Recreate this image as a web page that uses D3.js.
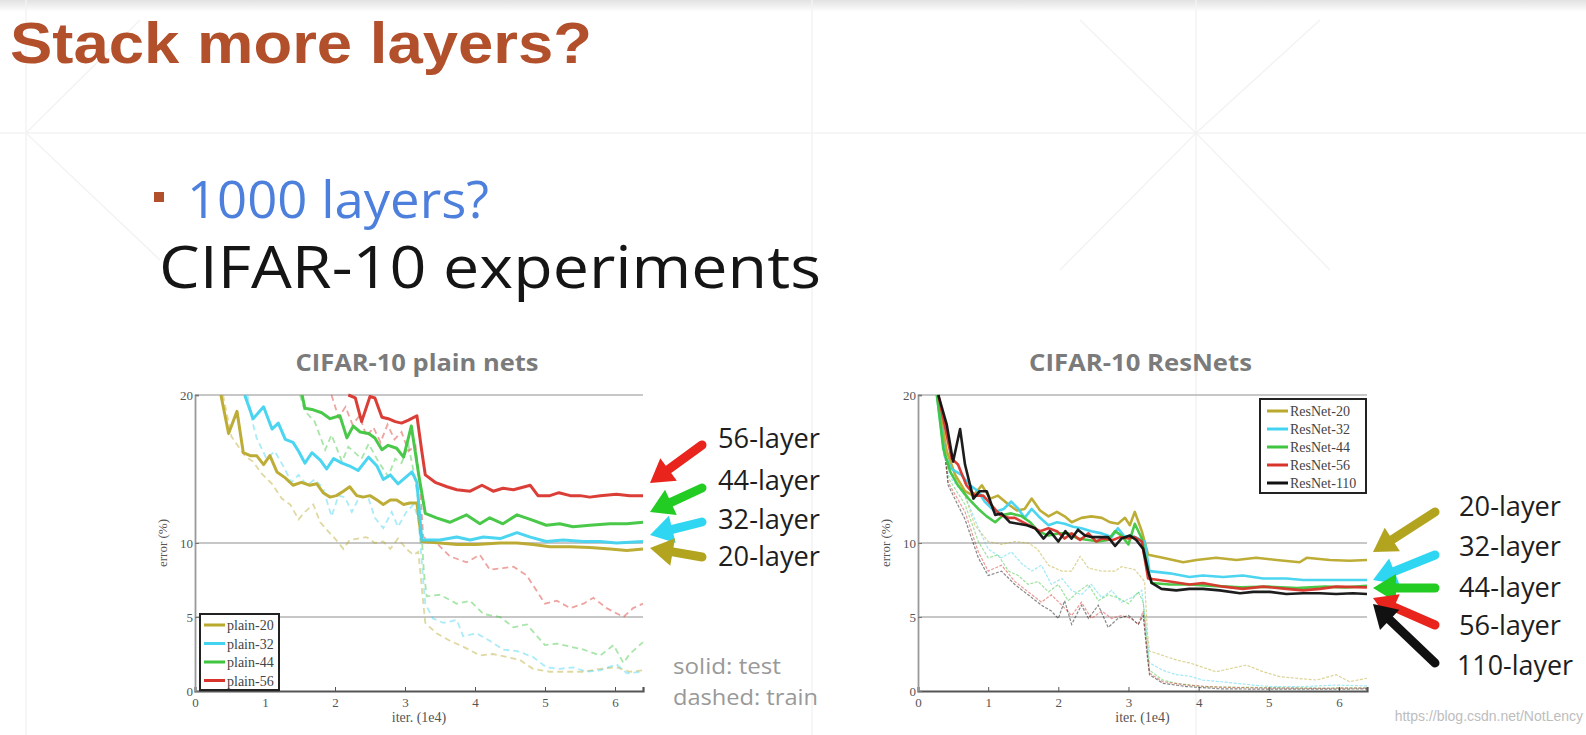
<!DOCTYPE html>
<html><head><meta charset="utf-8">
<script src="https://cdn.jsdelivr.net/npm/d3@7"></script>
<style>html,body{margin:0;padding:0;background:#fff;overflow:hidden}</style>
</head><body>
<svg id="c" width="1586" height="735"></svg>
<script>
// ---------------- data ----------------
const xTicks = [0,1,2,3,4,5,6];
const yTicks = [0,5,10,20];
const plainNames = ["plain-20","plain-32","plain-44","plain-56"];
const resNames = ["ResNet-20","ResNet-32","ResNet-44","ResNet-56","ResNet-110"];
const plainArrowLabels = ["56-layer","44-layer","32-layer","20-layer"];
const resArrowLabels = ["20-layer","32-layer","44-layer","56-layer","110-layer"];

const plain20Test = [[0.37,20],[0.48,17.4],[0.6,18.9],[0.69,16.1],[0.79,15.9],[0.88,15.9],[0.98,15.3],[1.07,15.9],[1.17,14.8],[1.29,14.4],[1.40,13.9],[1.52,14.1],[1.64,13.9],[1.74,14.0],[1.83,13.4],[1.93,13.1],[2.02,13.2],[2.12,13.5],[2.21,13.8],[2.31,13.2],[2.40,13.1],[2.5,13.2],[2.6,12.9],[2.69,12.6],[2.79,12.9],[2.88,12.9],[2.98,12.6],[3.07,12.7],[3.17,12.7],[3.24,10.1],[3.5,10.0],[3.74,9.9],[4.02,9.9],[4.36,10.0],[4.6,10.0],[4.83,9.9],[5.07,9.75],[5.36,9.75],[5.64,9.7],[5.93,9.6],[6.17,9.5],[6.4,9.6]];
const plain32Test = [[0.71,20],[0.83,18.4],[0.98,19.2],[1.1,17.7],[1.19,18.1],[1.29,17.0],[1.4,16.8],[1.48,16.2],[1.57,15.4],[1.67,16.1],[1.79,15.6],[1.88,15.0],[1.98,15.7],[2.1,15.4],[2.21,15.2],[2.33,14.9],[2.48,15.8],[2.6,15.2],[2.69,14.3],[2.79,14.6],[2.9,14.0],[3.0,14.4],[3.1,14.8],[3.17,14.1],[3.24,10.2],[3.5,10.2],[3.74,10.4],[3.93,10.2],[4.12,10.4],[4.36,10.3],[4.6,10.7],[4.79,10.4],[5.02,10.1],[5.26,10.2],[5.55,10.1],[5.79,10.1],[6.02,10.0],[6.4,10.1]];
const plain44Test = [[1.53,20],[1.57,19.1],[1.69,19.0],[1.81,18.8],[1.93,18.4],[2.07,18.6],[2.17,17.1],[2.26,17.9],[2.36,17.5],[2.48,17.4],[2.57,17.1],[2.67,16.3],[2.76,16.6],[2.88,16.4],[2.98,15.8],[3.09,17.9],[3.2,14.5],[3.29,12.0],[3.45,11.7],[3.64,11.4],[3.88,11.9],[4.07,11.3],[4.21,11.7],[4.4,11.3],[4.6,11.9],[4.79,11.6],[5.02,11.2],[5.21,11.3],[5.4,11.1],[5.64,11.2],[5.93,11.3],[6.17,11.3],[6.4,11.4]];
const plain56Test = [[2.19,20],[2.29,19.8],[2.38,18.2],[2.5,19.9],[2.57,19.8],[2.67,18.5],[2.76,18.4],[2.86,18.2],[2.95,18.1],[3.05,18.3],[3.17,18.6],[3.24,16.2],[3.29,14.6],[3.43,14.1],[3.6,13.8],[3.74,13.6],[3.93,13.5],[4.1,13.9],[4.26,13.5],[4.4,13.7],[4.55,13.6],[4.79,13.9],[4.9,13.2],[5.07,13.2],[5.2,13.4],[5.36,13.2],[5.5,13.2],[5.64,13.1],[5.79,13.2],[6.02,13.3],[6.21,13.2],[6.4,13.2]];

const plain20Train = [[0.4,20],[0.52,17.2],[0.71,15.9],[0.83,15.5],[0.95,14.7],[1.1,14.0],[1.24,13.0],[1.36,12.6],[1.48,11.6],[1.57,12.1],[1.69,12.6],[1.79,11.4],[1.9,10.8],[2.0,10.3],[2.12,9.6],[2.21,10.2],[2.33,10.3],[2.45,10.4],[2.57,10.0],[2.69,10.1],[2.79,9.6],[2.9,10.3],[3.02,9.6],[3.12,9.2],[3.19,9.4],[3.26,6.0],[3.29,4.6],[3.45,3.9],[3.64,3.4],[3.83,3.0],[4.07,2.4],[4.26,2.5],[4.45,2.3],[4.64,2.1],[4.83,1.5],[5.07,1.3],[5.31,1.3],[5.55,1.3],[5.79,1.5],[6.02,1.6],[6.21,1.3],[6.4,1.4]];
const plain32Train = [[0.75,20],[0.83,18.0],[0.88,17.1],[1.02,15.7],[1.14,16.2],[1.26,15.2],[1.38,14.1],[1.48,14.6],[1.6,13.9],[1.71,14.3],[1.83,13.7],[1.95,11.8],[2.05,13.2],[2.14,13.1],[2.24,12.1],[2.36,13.2],[2.48,13.0],[2.57,11.7],[2.69,11.0],[2.81,12.1],[2.9,11.1],[3.02,12.1],[3.12,12.6],[3.19,11.7],[3.26,7.5],[3.29,5.9],[3.4,4.9],[3.55,4.6],[3.74,4.8],[3.83,3.7],[4.02,3.9],[4.21,3.4],[4.4,2.8],[4.6,2.7],[4.83,2.3],[5.02,1.6],[5.21,1.5],[5.4,1.6],[5.6,1.3],[5.79,1.4],[6.02,1.8],[6.17,1.2],[6.4,1.3]];
const plain44Train = [[1.5,20],[1.57,18.9],[1.71,18.2],[1.86,16.3],[1.95,17.3],[2.1,15.5],[2.19,16.5],[2.38,15.7],[2.48,16.7],[2.62,15.5],[2.76,14.5],[2.86,15.7],[2.95,15.4],[3.05,16.6],[3.14,14.4],[3.22,12],[3.27,8.0],[3.31,6.4],[3.5,6.5],[3.74,5.9],[3.93,6.1],[4.12,5.2],[4.36,5.0],[4.55,4.3],[4.74,4.5],[5.0,3.1],[5.17,3.2],[5.36,3.0],[5.55,2.8],[5.79,2.4],[5.98,3.1],[6.12,1.9],[6.21,2.5],[6.4,3.3]];
const plain56Train = [[1.95,20],[2.05,18.5],[2.15,19.2],[2.25,18.0],[2.35,18.6],[2.45,17.2],[2.55,17.8],[2.65,16.8],[2.75,18.0],[2.85,17.0],[2.95,17.5],[3.05,16.2],[3.15,16.6],[3.22,13.5],[3.26,10.4],[3.45,10.0],[3.64,9.1],[3.88,8.7],[4.07,9.2],[4.21,8.2],[4.4,8.3],[4.55,8.4],[4.74,7.8],[5.0,5.9],[5.17,6.1],[5.36,5.6],[5.55,5.9],[5.69,6.3],[5.88,5.6],[6.12,5.0],[6.26,5.6],[6.4,5.9]];

const res20Test = [[0.27,20],[0.41,16.2],[0.53,14.6],[0.67,13.5],[0.79,13.2],[0.91,13.9],[1.03,13.0],[1.14,13.2],[1.29,12.6],[1.41,12.2],[1.52,12.3],[1.62,13.0],[1.74,12.2],[1.86,11.8],[1.98,12.1],[2.09,11.8],[2.19,11.4],[2.33,11.7],[2.47,11.8],[2.62,11.7],[2.74,11.4],[2.85,11.3],[2.95,11.7],[3.02,11.2],[3.09,12.1],[3.19,10.8],[3.28,9.2],[3.49,9.0],[3.78,8.7],[3.97,8.85],[4.25,9.0],[4.54,8.85],[4.82,9.0],[5.11,8.85],[5.44,8.7],[5.54,9.0],[5.87,8.85],[6.15,8.8],[6.4,8.85]];
const res32Test = [[0.27,20],[0.38,15.9],[0.48,15.0],[0.62,14.6],[0.74,13.9],[0.86,13.5],[0.95,12.8],[1.1,12.1],[1.22,12.3],[1.33,12.8],[1.43,12.3],[1.52,11.7],[1.62,12.3],[1.74,11.7],[1.86,11.2],[1.98,11.4],[2.09,11.3],[2.21,11.1],[2.33,11.0],[2.47,10.8],[2.62,10.65],[2.76,10.4],[2.85,11.0],[2.95,10.4],[3.04,10.5],[3.14,10.3],[3.23,10.1],[3.3,8.1],[3.59,7.95],[3.87,7.7],[4.06,7.8],[4.35,7.7],[4.63,7.8],[4.92,7.6],[5.25,7.6],[5.49,7.5],[5.96,7.5],[6.4,7.5]];
const res44Test = [[0.27,20],[0.36,16.4],[0.46,14.8],[0.57,13.9],[0.72,13.0],[0.86,12.3],[0.98,11.8],[1.1,11.4],[1.22,11.9],[1.33,12.0],[1.48,11.8],[1.6,11.4],[1.71,10.8],[1.86,10.5],[2.0,10.65],[2.14,10.65],[2.28,10.3],[2.43,10.2],[2.57,10.1],[2.71,10.2],[2.81,10.8],[2.9,10.5],[3.0,9.9],[3.09,11.3],[3.19,10.3],[3.28,8.1],[3.33,7.3],[3.59,7.2],[3.87,7.2],[4.2,7.1],[4.6,7.0],[5.0,7.05],[5.4,6.95],[5.8,7.05],[6.1,7.0],[6.4,7.1]];
const res56Test = [[0.29,20],[0.48,15.7],[0.57,15.3],[0.69,13.9],[0.81,13.2],[0.93,13.2],[1.04,12.6],[1.17,11.9],[1.29,11.7],[1.38,11.7],[1.5,11.4],[1.62,11.1],[1.74,10.8],[1.86,11.0],[1.98,10.8],[2.09,10.3],[2.19,10.65],[2.31,10.2],[2.43,10.65],[2.54,10.1],[2.62,10.3],[2.78,10.2],[2.88,10.4],[3.0,10.3],[3.09,10.4],[3.19,10.1],[3.28,7.6],[3.59,7.4],[3.87,7.2],[4.06,7.3],[4.35,7.05],[4.63,6.9],[4.92,7.05],[5.25,6.9],[5.49,6.8],[5.73,6.9],[5.96,7.05],[6.4,7.0]];
const res110Test = [[0.29,20],[0.41,18.0],[0.5,15.5],[0.6,17.7],[0.67,15.3],[0.79,13.0],[0.88,13.5],[0.98,13.5],[1.1,11.9],[1.19,12.0],[1.31,11.4],[1.43,11.3],[1.55,11.2],[1.67,11.0],[1.79,10.3],[1.88,10.8],[2.0,10.1],[2.1,10.8],[2.19,10.3],[2.28,10.9],[2.38,10.5],[2.47,10.4],[2.62,10.4],[2.71,10.4],[2.81,9.8],[2.9,10.3],[3.02,10.5],[3.11,10.2],[3.21,9.6],[3.28,8.1],[3.33,7.3],[3.47,6.9],[3.68,6.8],[3.87,6.9],[4.06,6.9],[4.3,6.8],[4.59,6.6],[4.78,6.7],[5.01,6.7],[5.25,6.55],[5.49,6.6],[5.73,6.6],[5.96,6.55],[6.2,6.6],[6.4,6.55]];

const res20Train = [[0.27,20],[0.43,15.0],[0.62,13.9],[0.81,11.2],[1.0,10.1],[1.19,9.9],[1.38,10.1],[1.57,10.0],[1.7,9.6],[1.86,8.5],[2.05,8.1],[2.19,8.1],[2.31,9.1],[2.43,8.3],[2.62,8.1],[2.81,8.1],[2.9,8.4],[3.09,8.2],[3.23,7.4],[3.27,4.0],[3.3,2.7],[3.49,2.4],[3.68,2.1],[3.87,1.9],[4.06,1.6],[4.25,1.3],[4.44,1.5],[4.68,1.75],[4.92,1.3],[5.16,0.97],[5.39,0.86],[5.68,0.74],[5.96,1.1],[6.15,0.63],[6.4,0.86]];
const res32Train = [[0.27,20],[0.43,14.6],[0.67,13.2],[0.86,11.0],[1.0,9.6],[1.19,9.0],[1.33,9.4],[1.48,8.6],[1.62,8.1],[1.76,8.5],[1.9,7.2],[2.05,7.6],[2.19,6.8],[2.33,6.5],[2.47,7.2],[2.62,6.3],[2.76,6.8],[2.9,6.0],[3.04,6.3],[3.19,6.8],[3.27,3.5],[3.3,1.9],[3.49,1.4],[3.68,1.1],[3.87,1.0],[4.06,0.74],[4.3,0.63],[4.54,0.52],[4.78,0.4],[5.01,0.3],[5.49,0.3],[5.96,0.4],[6.4,0.34]];
const res44Train = [[0.27,20],[0.43,14.4],[0.67,12.6],[0.86,10.1],[1.0,9.0],[1.14,9.2],[1.29,8.1],[1.43,7.8],[1.57,7.2],[1.71,7.4],[1.86,6.7],[2.0,7.2],[2.14,6.1],[2.28,6.7],[2.43,7.2],[2.57,6.1],[2.71,6.5],[2.85,6.3],[3.0,5.9],[3.14,6.7],[3.21,6.0],[3.27,3.0],[3.3,1.4],[3.49,0.74],[3.68,0.52],[4.06,0.3],[4.6,0.25],[5.2,0.22],[5.8,0.2],[6.4,0.22]];
const res56Train = [[0.29,20],[0.43,14.1],[0.67,12.1],[0.86,9.4],[1.0,8.1],[1.19,8.5],[1.38,7.4],[1.57,6.7],[1.76,6.0],[1.9,6.5],[2.05,5.8],[2.19,5.1],[2.33,6.0],[2.47,4.9],[2.62,5.4],[2.76,4.9],[2.9,5.1],[3.04,4.9],[3.14,4.5],[3.21,5.4],[3.27,2.5],[3.3,1.2],[3.49,0.63],[3.83,0.4],[4.3,0.25],[5.0,0.2],[5.7,0.18],[6.4,0.2]];
const res110Train = [[0.29,20],[0.43,13.9],[0.67,11.6],[0.86,9.0],[1.0,7.8],[1.19,8.1],[1.38,7.2],[1.57,6.5],[1.76,5.8],[1.9,5.4],[2.0,4.9],[2.09,6.1],[2.19,4.5],[2.33,5.8],[2.43,4.9],[2.57,5.8],[2.71,4.3],[2.85,4.9],[3.0,5.1],[3.14,4.5],[3.21,5.1],[3.27,2.3],[3.3,1.1],[3.49,0.52],[3.83,0.3],[4.3,0.15],[5.0,0.12],[5.7,0.12],[6.4,0.14]];

// ---------------- styling ----------------
const OLIVE="#b9a92c", CYAN="#41d3ef", GREEN="#3fc53f", RED="#d9342b", BLACK="#111111";
const plainColors=[OLIVE,CYAN,GREEN,RED];
const resColors=[OLIVE,CYAN,GREEN,RED,BLACK];

const svg=d3.select("#c");
const defs=svg.append("defs");
const grad=defs.append("linearGradient").attr("id","topg").attr("x1",0).attr("y1",0).attr("x2",0).attr("y2",1);
grad.append("stop").attr("offset","0").attr("stop-color","#e2e2e2");
grad.append("stop").attr("offset","1").attr("stop-color","#ffffff");
svg.append("rect").attr("width",1586).attr("height",735).attr("fill","#fff");
svg.append("rect").attr("width",1586).attr("height",12).attr("fill","url(#topg)");

// faint slide template lines
const bg=svg.append("g").attr("stroke","#f3f3f3").attr("stroke-width",1.5).attr("fill","none");
bg.append("line").attr("x1",0).attr("y1",133).attr("x2",1586).attr("y2",133);
[26,812,1196].forEach(x=>bg.append("line").attr("x1",x).attr("y1",0).attr("x2",x).attr("y2",735));
bg.append("path").attr("d","M26,133 L140,20 M26,133 L160,260 M1196,133 L1080,20 M1196,133 L1320,20 M1196,133 L1060,270 M1196,133 L1330,270");

// slide titles
svg.append("text").attr("x",10).attr("y",63).text("Stack more layers?")
  .attr("font-family","Liberation Sans, Arial, sans-serif").attr("font-weight","bold")
  .attr("font-size",58).attr("fill","#b3502c").attr("textLength",582).attr("lengthAdjust","spacingAndGlyphs");
svg.append("rect").attr("x",154).attr("y",192).attr("width",10).attr("height",10).attr("fill","#b3502c");
svg.append("text").attr("x",187).attr("y",218).text("1000 layers?")
  .attr("font-family","Open Sans, Noto Sans, sans-serif").attr("font-size",52).attr("fill","#4d7fdc")
  .attr("textLength",302).attr("lengthAdjust","spacingAndGlyphs");
svg.append("text").attr("x",159).attr("y",288).text("CIFAR-10 experiments")
  .attr("font-family","Open Sans, Noto Sans, sans-serif").attr("font-size",58).attr("fill","#151515")
  .attr("textLength",662).attr("lengthAdjust","spacingAndGlyphs");

// ---------------- panels ----------------
function panel(opt){
  const x=d3.scaleLinear().domain([0,6.4]).range([opt.x0,opt.x1]);
  const y=d3.scaleLinear().domain([0,20]).range([691,395]);
  const g=svg.append("g");
  const cid="clip"+opt.id;
  defs.append("clipPath").attr("id",cid).append("rect")
    .attr("x",opt.x0).attr("y",393).attr("width",opt.x1-opt.x0+2).attr("height",300);
  // title
  g.append("text").attr("x",(opt.x0+opt.x1)/2-2).attr("y",371).attr("text-anchor","middle").text(opt.title)
    .attr("font-family","Open Sans, Noto Sans, sans-serif").attr("font-weight","bold").attr("font-size",23)
    .attr("fill","#7b7b7b").attr("textLength",opt.titleLen).attr("lengthAdjust","spacingAndGlyphs");
  // grid
  g.append("g").selectAll("line").data([5,10,20]).join("line")
    .attr("x1",opt.x0).attr("x2",opt.x1).attr("y1",d=>y(d)).attr("y2",d=>y(d))
    .attr("stroke","#b4b4b4").attr("stroke-width",1.6);
  // axes
  const ax=g.append("g").attr("transform",`translate(0,${y(0)})`)
    .call(d3.axisBottom(x).tickValues(xTicks).tickSize(-4).tickPadding(7).tickFormat(d3.format("d")));
  ax.select(".domain").attr("stroke","#555").attr("stroke-width",2.2);
  ax.selectAll(".tick line").attr("stroke","#555");
  ax.selectAll("text").attr("font-family","Liberation Serif, serif").attr("font-size",13).attr("fill","#555");
  const ay=g.append("g").attr("transform",`translate(${opt.x0},0)`)
    .call(d3.axisLeft(y).tickValues(yTicks).tickSize(-4).tickPadding(2).tickFormat(d3.format("d")));
  ay.select(".domain").attr("stroke","#999").attr("stroke-width",1.8);
  ay.selectAll(".tick line").attr("stroke","#777");
  ay.selectAll("text").attr("font-family","Liberation Serif, serif").attr("font-size",13).attr("fill","#555");
  g.append("text").attr("transform",`translate(${opt.x0-28},${y(10)}) rotate(-90)`).attr("text-anchor","middle")
    .text("error (%)").attr("font-family","Liberation Serif, serif").attr("font-size",13).attr("fill","#555");
  g.append("text").attr("x",x(3.2)).attr("y",722).attr("text-anchor","middle").text("iter. (1e4)")
    .attr("font-family","Liberation Serif, serif").attr("font-size",14).attr("fill","#555");
  // lines
  const line=d3.line().x(d=>x(d[0])).y(d=>y(d[1]));
  const lg=g.append("g").attr("clip-path",`url(#${cid})`).attr("fill","none");
  opt.train.forEach((s,i)=>{
    lg.append("path").attr("d",line(s)).attr("stroke",opt.colors[i])
      .attr("stroke-width",opt.trainW).attr("stroke-dasharray",opt.dash).attr("opacity",opt.trainOp);
  });
  opt.test.forEach((s,i)=>{
    lg.append("path").attr("d",line(s)).attr("stroke",opt.colors[i])
      .attr("stroke-width",opt.testW).attr("stroke-linejoin","round").attr("opacity",0.95);
  });
  // legend
  const L=opt.legend;
  const lgd=g.append("g");
  const lcid="lclip"+opt.id;
  defs.append("clipPath").attr("id",lcid).append("rect").attr("x",L.x).attr("y",L.y).attr("width",L.w).attr("height",L.h);
  lgd.append("rect").attr("x",L.x).attr("y",L.y).attr("width",L.w).attr("height",L.h).attr("fill","#fff");
  const items=lgd.append("g").attr("clip-path",`url(#${lcid})`);
  opt.names.forEach((n,i)=>{
    const yy=L.y+L.first+i*L.step;
    items.append("line").attr("x1",L.x+L.l0).attr("x2",L.x+L.l1).attr("y1",yy).attr("y2",yy)
      .attr("stroke",opt.colors[i]).attr("stroke-width",3);
    items.append("text").attr("x",L.x+L.l1+2).attr("y",yy+5).text(n)
      .attr("font-family","Liberation Serif, serif").attr("font-size",L.fs).attr("fill","#444");
  });
  lgd.append("rect").attr("x",L.x).attr("y",L.y).attr("width",L.w).attr("height",L.h)
    .attr("fill","none").attr("stroke","#222").attr("stroke-width",2);
}

panel({id:"a",x0:195,x1:643,title:"CIFAR-10 plain nets",titleLen:243,
  test:[plain20Test,plain32Test,plain44Test,plain56Test],
  train:[plain20Train,plain32Train,plain44Train,plain56Train],
  colors:plainColors,names:plainNames,testW:3,trainW:1.8,dash:"6,4",trainOp:0.45,
  legend:{x:200,y:614,w:79,h:76,first:11,step:18.5,l0:4,l1:25,fs:14}});
panel({id:"b",x0:918,x1:1367,title:"CIFAR-10 ResNets",titleLen:223,
  test:[res20Test,res32Test,res44Test,res56Test,res110Test],
  train:[res20Train,res32Train,res44Train,res56Train,res110Train],
  colors:resColors,names:resNames,testW:2.6,trainW:1.2,dash:"3,1.5",trainOp:0.5,
  legend:{x:1260,y:399,w:106,h:94,first:12,step:18,l0:7,l1:28,fs:14}});

// ---------------- arrows & labels ----------------
function arrow(x1,y1,x2,y2,color){
  const a=Math.atan2(y2-y1,x2-x1), hl=23, hw=14;
  const bx=x2-hl*Math.cos(a), by=y2-hl*Math.sin(a);
  svg.append("line").attr("x1",x1).attr("y1",y1).attr("x2",bx).attr("y2",by)
    .attr("stroke",color).attr("stroke-width",9).attr("stroke-linecap","round");
  const px=-Math.sin(a), py=Math.cos(a);
  svg.append("path").attr("d",`M${x2},${y2}L${bx+px*hw},${by+py*hw}L${bx-px*hw},${by-py*hw}Z`).attr("fill",color);
}
const plainArrows=[[702,445,650,483,"#e8241c"],[702,488,650,512,"#22cc22"],[702,522,650,535,"#2fd6f2"],[702,557,650,548,"#b2a41e"]];
plainArrows.forEach(a=>arrow(...a));
const plainLabelY=[448,490,529,566];
plainArrowLabels.forEach((t,i)=>svg.append("text").attr("x",718).attr("y",plainLabelY[i]).text(t)
  .attr("font-family","Open Sans, Noto Sans, sans-serif").attr("font-size",27).attr("fill","#1e1e1e")
  .attr("textLength",102).attr("lengthAdjust","spacingAndGlyphs"));
const resArrows=[[1435,512,1373,552,"#b2a41e"],[1435,555,1373,580,"#2fd6f2"],[1435,588,1373,588,"#22cc22"],[1435,625,1373,598,"#e8241c"],[1435,663,1373,604,"#111"]];
resArrows.forEach(a=>arrow(...a));
const resLabelY=[516,556,597,635,675];
resArrowLabels.forEach((t,i)=>svg.append("text").attr("x",i===4?1457:1459).attr("y",resLabelY[i]).text(t)
  .attr("font-family","Open Sans, Noto Sans, sans-serif").attr("font-size",27).attr("fill","#1e1e1e")
  .attr("textLength",i===4?116:102).attr("lengthAdjust","spacingAndGlyphs"));

svg.append("text").attr("x",673).attr("y",674).text("solid: test")
  .attr("font-family","Open Sans, Noto Sans, sans-serif").attr("font-size",21).attr("fill","#999")
  .attr("textLength",108).attr("lengthAdjust","spacingAndGlyphs");
svg.append("text").attr("x",673).attr("y",705).text("dashed: train")
  .attr("font-family","Open Sans, Noto Sans, sans-serif").attr("font-size",21).attr("fill","#999")
  .attr("textLength",145).attr("lengthAdjust","spacingAndGlyphs");
svg.append("text").attr("x",1583).attr("y",721).attr("text-anchor","end").text("https://blog.csdn.net/NotLency")
  .attr("font-family","Liberation Sans, Arial, sans-serif").attr("font-size",14).attr("fill","#bdbdbd");
</script>
</body></html>
